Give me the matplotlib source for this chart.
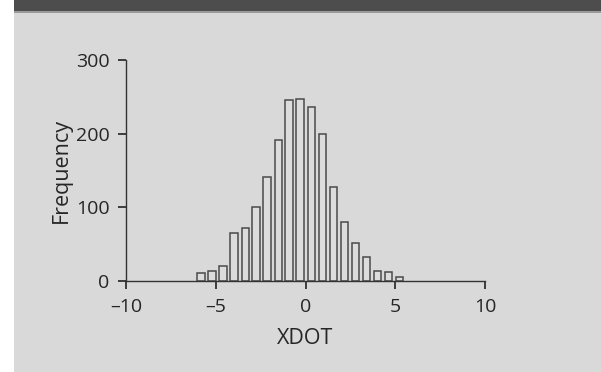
import matplotlib
matplotlib.use("Agg")
import matplotlib.pyplot as plt
from matplotlib.patches import Rectangle

# Data
bin_centers = [-5.82, -5.21, -4.59, -3.98, -3.36, -2.75, -2.14, -1.52, -0.91, -0.30,
               0.32, 0.93, 1.55, 2.16, 2.77, 3.39, 4.00, 4.61, 5.23]
counts = [11, 13, 20, 65, 72, 101, 141, 191, 246, 247,
          236, 199, 128, 80, 52, 33, 14, 12, 6]
x_ticks = [-10, -5, 0, 5, 10]
y_ticks = [0, 100, 200, 300]
x_label = "XDOT"
y_label = "Frequency"

plt.rcParams['font.family'] = ['Open Sans', 'DejaVu Sans']
BG = '#d9d9d9'
TXT = '#262626'

W, H = 601, 372
fig = plt.figure(figsize=(W / 100, H / 100), dpi=100, facecolor='white')

# background panel and header band
fig.patches.append(Rectangle((14 / W, 0), 1 - 14 / W, 1, transform=fig.transFigure,
                             facecolor=BG, edgecolor='none', zorder=-10))
fig.patches.append(Rectangle((14 / W, 1 - 11 / H), 1 - 14 / W, 11 / H, transform=fig.transFigure,
                             facecolor='#4d4d4d', edgecolor='none', zorder=-9))
fig.patches.append(Rectangle((14 / W, 1 - 12.5 / H), 1 - 14 / W, 1.5 / H, transform=fig.transFigure,
                             facecolor='#9a9a9a', edgecolor='none', zorder=-9))

ax = fig.add_axes([126 / W, 91 / H, 359 / W, 221 / H])
ax.set_facecolor('none')

ax.bar(bin_centers, counts, width=0.41, color='#dcdcdc', edgecolor='#4a4a4a',
       linewidth=1.1, clip_on=False, zorder=2)

ax.set_xlim(-10, 10)
ax.set_ylim(0, 300)
ax.set_xticks(x_ticks)
ax.set_yticks(y_ticks)
ax.set_xticklabels([str(v).replace('-', '\u2013') for v in x_ticks])

for s in ['top', 'right']:
    ax.spines[s].set_visible(False)
for s in ['left', 'bottom']:
    ax.spines[s].set_color('#333333')
    ax.spines[s].set_linewidth(1.0)
    ax.spines[s].set_zorder(3)

ax.tick_params(axis='both', direction='out', length=6, width=1.2, color='#222222',
               labelsize=14, labelcolor=TXT, pad=6)
ax.tick_params(axis='y', pad=6)

ax.set_xlabel(x_label, fontsize=15.5, color=TXT, labelpad=9)
ax.set_ylabel(y_label, fontsize=15.5, color=TXT, labelpad=3)

fig.savefig('out.png', dpi=100, facecolor=fig.get_facecolor())
